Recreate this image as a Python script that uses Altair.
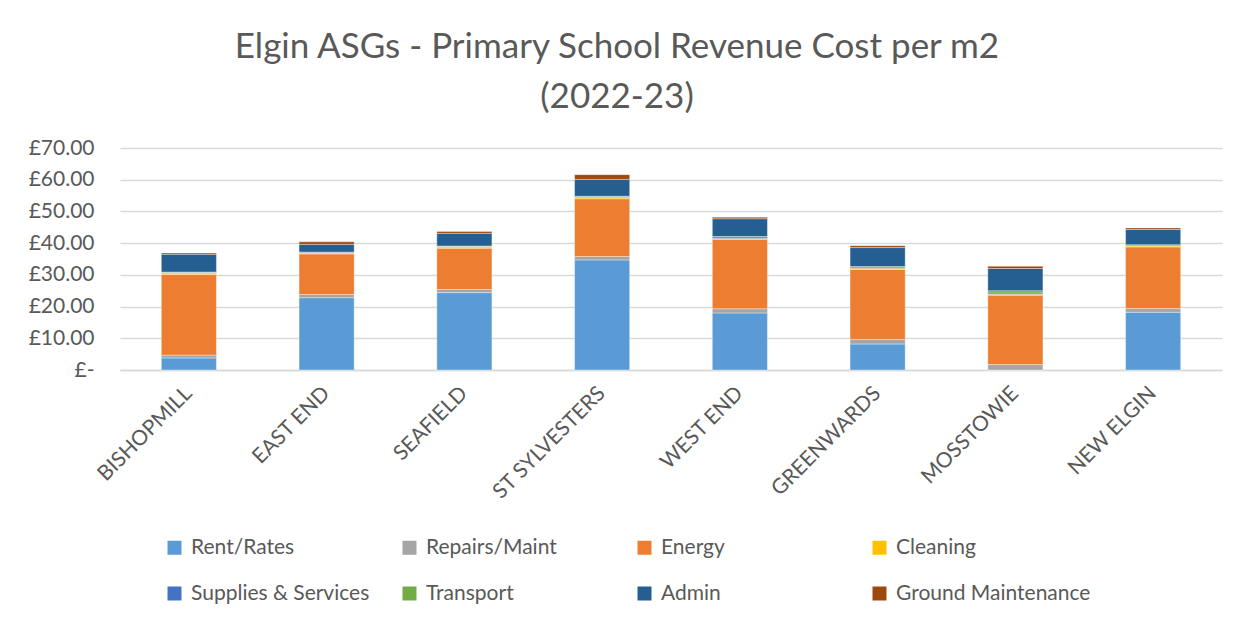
import altair as alt
import pandas as pd

schools = ["BISHOPMILL", "EAST END", "SEAFIELD", "ST SYLVESTERS", "WEST END",
           "GREENWARDS", "MOSSTOWIE", "NEW ELGIN"]
categories = ["Rent/Rates", "Repairs/Maint", "Energy", "Cleaning",
              "Supplies & Services", "Transport", "Admin", "Ground Maintenance"]
colors = ["#5B9BD5", "#A5A5A5", "#ED7D31", "#FFC000",
          "#4472C4", "#70AD47", "#255E91", "#9E480E"]

rent_rates = [3.8, 22.8, 24.4, 34.7, 18.0, 8.2, 0.0, 18.2]
repairs_maint = [0.9, 1.0, 1.0, 1.1, 1.3, 1.4, 1.7, 1.2]
energy = [25.4, 12.8, 13.0, 18.2, 21.9, 22.1, 21.9, 19.4]
cleaning = [0.4, 0.3, 0.4, 0.4, 0.3, 0.4, 0.3, 0.3]
supplies_services = [0.3, 0.3, 0.2, 0.3, 0.5, 0.4, 0.4, 0.3]
transport = [0.1, 0.0, 0.1, 0.1, 0.1, 0.1, 0.7, 0.1]
admin = [5.6, 2.4, 4.0, 5.3, 5.6, 6.0, 7.0, 4.8]
ground_maintenance = [0.4, 0.8, 0.6, 1.5, 0.5, 0.6, 0.7, 0.5]

series = [rent_rates, repairs_maint, energy, cleaning,
          supplies_services, transport, admin, ground_maintenance]

rows = []
for ci, (cat, vals) in enumerate(zip(categories, series)):
    for s, v in zip(schools, vals):
        rows.append({"school": s, "category": cat, "value": v, "idx": ci})
df = pd.DataFrame(rows)

FONT = "Lato"
TXT = "#595959"
FS = 21

chart = alt.Chart(df).mark_bar(stroke="white", strokeWidth=0.6, strokeOpacity=0.6).encode(
    x=alt.X("school:N", sort=schools,
            scale=alt.Scale(paddingInner=0.6, paddingOuter=0.3),
            axis=alt.Axis(title=None, labelAngle=-45, labelAlign="right",
                          labelBaseline="middle", labelPadding=20,
                          labelFontSize=FS, labelColor=TXT, labelFont=FONT,
                          ticks=False, domainColor="#D9D9D9", domainWidth=1.5)),
    y=alt.Y("value:Q", stack="zero",
            scale=alt.Scale(domain=[0, 70], nice=False),
            axis=alt.Axis(title=None, values=[0, 10, 20, 30, 40, 50, 60, 70],
                          labelExpr="datum.value == 0 ? '£-\u00a0\u00a0' : '£' + format(datum.value, '.2f')",
                          labelFontSize=FS, labelColor=TXT, labelFont=FONT,
                          labelPadding=26, ticks=False, domain=False,
                          gridColor="#D9D9D9", gridWidth=1.3)),
    color=alt.Color("category:N", sort=categories,
                    scale=alt.Scale(domain=categories, range=colors),
                    legend=alt.Legend(title=None, orient="none", legendX=44, legendY=389,
                                      columns=4, direction="horizontal", gridAlign="all",
                                      symbolType="square", symbolSize=196, symbolStrokeWidth=0,
                                      labelFontSize=FS, labelColor=TXT, labelFont=FONT,
                                      labelOffset=6, columnPadding=13, rowPadding=24,
                                      padding=0, labelLimit=400)),
    order=alt.Order("idx:Q", sort="ascending"),
).properties(
    width=1102,
    height=222,
    title=alt.TitleParams(
        text=["Elgin ASGs - Primary School Revenue Cost per m2", "(2022-23)"],
        fontSize=35, font=FONT, color=TXT, fontWeight="normal",
        anchor="middle", dx=-54, offset=22, lineHeight=50),
    autosize=alt.AutoSizeParams(type="none"),
    padding={"left": 112, "top": 140, "right": 4, "bottom": 248},
).configure(background="white").configure_view(stroke=None)

chart.save("out.html", embed_options={"renderer": "svg", "actions": False})
